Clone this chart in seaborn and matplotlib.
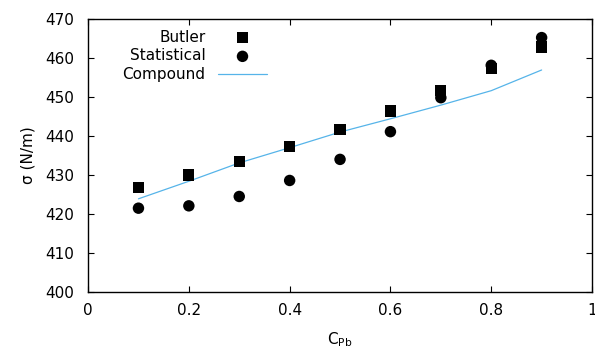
import matplotlib
matplotlib.use("Agg")
import matplotlib.pyplot as plt
import seaborn as sns
import pandas as pd

c_pb = [0.1, 0.2, 0.3, 0.4, 0.5, 0.6, 0.7, 0.8, 0.9]
butler = [426.9, 430.0, 433.4, 437.3, 441.6, 446.4, 451.6, 457.2, 462.8]
statistical = [421.5, 422.1, 424.5, 428.6, 434.0, 441.1, 449.8, 458.1, 465.2]
compound = [423.9, 428.4, 433.1, 437.0, 441.0, 444.4, 447.9, 451.6, 456.9]

x_ticks = [0, 0.2, 0.4, 0.6, 0.8, 1]
x_tick_labels = ["0", "0.2", "0.4", "0.6", "0.8", "1"]
y_ticks = [400, 410, 420, 430, 440, 450, 460, 470]

sns.set_style("ticks")
plt.rcParams["font.family"] = ["DejaVu Sans"]
plt.rcParams["mathtext.default"] = "regular"
plt.rcParams["text.color"] = "black"
plt.rcParams["axes.labelcolor"] = "black"

df = pd.DataFrame({"c": c_pb, "butler": butler,
                   "statistical": statistical, "compound": compound})

fig, ax = plt.subplots(figsize=(5.95, 3.49), dpi=100)
fig.subplots_adjust(left=0.148, right=0.995, top=0.946, bottom=0.163)

sns.scatterplot(data=df, x="c", y="butler", marker="s", s=64, color="black",
                edgecolor="none", label="Butler", ax=ax, zorder=3)
sns.scatterplot(data=df, x="c", y="statistical", marker="o", s=68, color="black",
                edgecolor="none", label="Statistical", ax=ax, zorder=3)
sns.lineplot(data=df, x="c", y="compound", color="#56b4e9", linewidth=0.9,
             label="Compound", ax=ax, zorder=2)

ax.set_xlim(0, 1)
ax.set_ylim(400, 470)
ax.set_xticks(x_ticks)
ax.set_xticklabels(x_tick_labels)
ax.set_yticks(y_ticks)
ax.tick_params(direction="in", top=True, right=True, length=4, width=0.8,
               labelsize=11, colors="black")
ax.tick_params(axis="y", pad=10)
ax.tick_params(axis="x", pad=8)
for sp in ax.spines.values():
    sp.set_linewidth(1.0)
    sp.set_color("black")

ax.set_xlabel(r"C$_{Pb}$", fontsize=11, labelpad=9)
ax.set_ylabel("σ (N/m)", fontsize=11, labelpad=7)

ax.legend(loc="upper left", bbox_to_anchor=(0.047, 1.0), frameon=False,
          markerfirst=False, fontsize=11, handlelength=3.15,
          handletextpad=0.85, labelspacing=0.25, borderaxespad=0.3)

fig.savefig("out.png", dpi=100)
